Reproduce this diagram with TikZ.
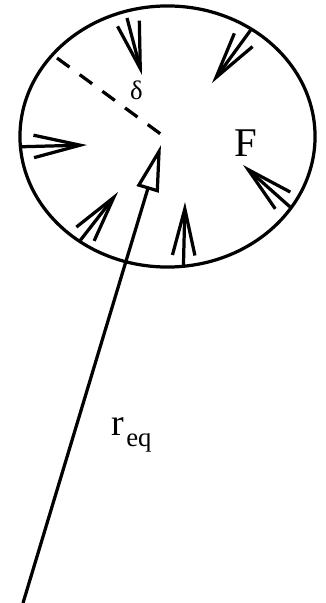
\documentclass[tikz,border=0pt]{standalone}
\usepackage{fontspec}
\setmainfont{Liberation Serif}
\usetikzlibrary{
    shapes.geometric,
    arrows.meta,
    positioning,
    calc
}

\begin{document}
\begin{tikzpicture}[x=0.025cm, y=-0.025cm, line width=2.3pt,
    force/.style={-{Straight Barb[length=33pt, width=16pt]}},
    radius/.style={-{Triangle[open, length=33pt, width=16pt]}}]
            \useasboundingbox (0,0) rectangle (326,603);

            % Drop outline
            \node[ellipse, draw, minimum width=7.375cm, minimum height=6.525cm,
                  inner sep=0pt, outer sep=0pt] (drop) at (167.5,136.5) {};

            % Tips of the forces
            \coordinate (tipTop) at (142,75);
            \coordinate (tipTopRight) at (212,83);
            \coordinate (tipLeft) at (87,145);
            \coordinate (tipLowLeft) at (118,192);
            \coordinate (tipBottom) at (185,202);
            \coordinate (tipLowRight) at (243,165);
            \coordinate (topStart) at (127,18);

            % Forces on the surface
            \draw[force] (topStart) -- (tipTop);
            \draw[force] (drop.52.6) -- (tipTopRight);
            \draw[force] (drop.184.8) -- (tipLeft);
            \draw[force] (drop.230.8) -- (tipLowLeft);
            \draw[force] (drop.277.6) -- (tipBottom);
            \draw[force] (drop.330.1) -- (tipLowRight);

            % Thickness
            \coordinate (dashStart) at (57,58);
            \coordinate (dashEnd) at (162,135);
            \draw[dash pattern=on 11pt off 9pt] (dashStart) -- (dashEnd);
            \node[inner sep=0pt, font=\fontsize{19}{19}\selectfont] (delta) at (136.5,90) {δ};

            % Force label
            \node[inner sep=0pt, font=\fontsize{29}{29}\selectfont] (force) at (245.5,143.5) {F};

            % Equilibrium radius
            \coordinate (origin) at (23,603);
            \coordinate (rTip) at (161,145);
            \draw[radius] (origin) -- (rTip);
            \node[anchor=base west, inner sep=0pt] (req) at (110,435)
                {\fontsize{27}{27}\selectfont r\kern1.5pt\raisebox{-8.5pt}{\fontsize{19}{19}\selectfont eq}};
        \end{tikzpicture}
\end{document}
